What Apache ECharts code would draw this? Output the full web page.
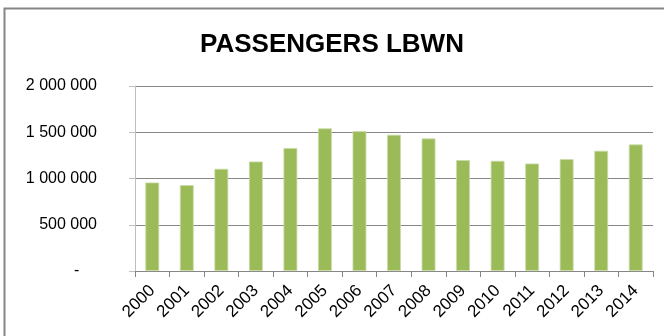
<!DOCTYPE html>
<html>
<head>
<meta charset="utf-8">
<script src="https://cdn.jsdelivr.net/npm/echarts@6/dist/echarts.min.js"></script>
<style>
html,body{margin:0;padding:0;background:#fff;}
#chart{width:664px;height:336px;}
</style>
</head>
<body>
<div id="chart"></div>
<script>
const titleText = "PASSENGERS LBWN";
const years = ["2000","2001","2002","2003","2004","2005","2006","2007","2008","2009","2010","2011","2012","2013","2014"];
const passengers = [957000, 928000, 1105000, 1184000, 1329000, 1542000, 1513000, 1473000, 1433000, 1199000, 1191000, 1162000, 1209000, 1300000, 1368000];
const yTicks = [0, 500000, 1000000, 1500000, 2000000];

function fmt(v) {
  if (v === 0) return "-    ";
  return String(v).replace(/\B(?=(\d{3})+(?!\d))/g, " ");
}

const chart = echarts.init(document.getElementById('chart'), null, {renderer: 'canvas'});
chart.setOption({
  animation: false,
  backgroundColor: '#ffffff',
  title: {
    text: titleText,
    left: 'center',
    top: 27,
    textStyle: {
      fontFamily: 'Liberation Sans',
      fontWeight: 'bold',
      fontSize: 26,
      color: '#000000'
    }
  },
  graphic: [{
    type: 'polyline',
    shape: { points: [[4.5, 340], [4.5, 8.5], [670, 8.5]] },
    style: { stroke: '#868686', lineWidth: 2, fill: null },
    silent: true
  }],
  grid: { left: 135, right: 11, top: 86, bottom: 65 },
  xAxis: {
    type: 'category',
    data: years,
    boundaryGap: true,
    axisLine: { lineStyle: { color: '#868686', width: 1 } },
    axisTick: { show: true, alignWithLabel: false, length: 6, lineStyle: { color: '#868686' } },
    axisLabel: {
      rotate: 45,
      interval: 0,
      margin: 17,
      fontFamily: 'Liberation Sans',
      fontSize: 17,
      color: '#000000'
    }
  },
  yAxis: {
    type: 'value',
    min: yTicks[0],
    max: yTicks[yTicks.length - 1],
    interval: 500000,
    axisLine: { show: true, lineStyle: { color: '#BFBFBF', width: 1 } },
    axisTick: { show: true, length: 6, lineStyle: { color: '#BFBFBF' } },
    splitLine: { show: true, lineStyle: { color: '#868686', width: 1 } },
    axisLabel: {
      formatter: fmt,
      margin: 38,
      fontFamily: 'Liberation Sans',
      fontSize: 16,
      color: '#000000'
    }
  },
  series: [{
    type: 'bar',
    data: passengers,
    barWidth: '40%',
    itemStyle: { color: '#9BBB59', borderColor: '#C9DAA6', borderWidth: 0.8 }
  }]
});
</script>
</body>
</html>
